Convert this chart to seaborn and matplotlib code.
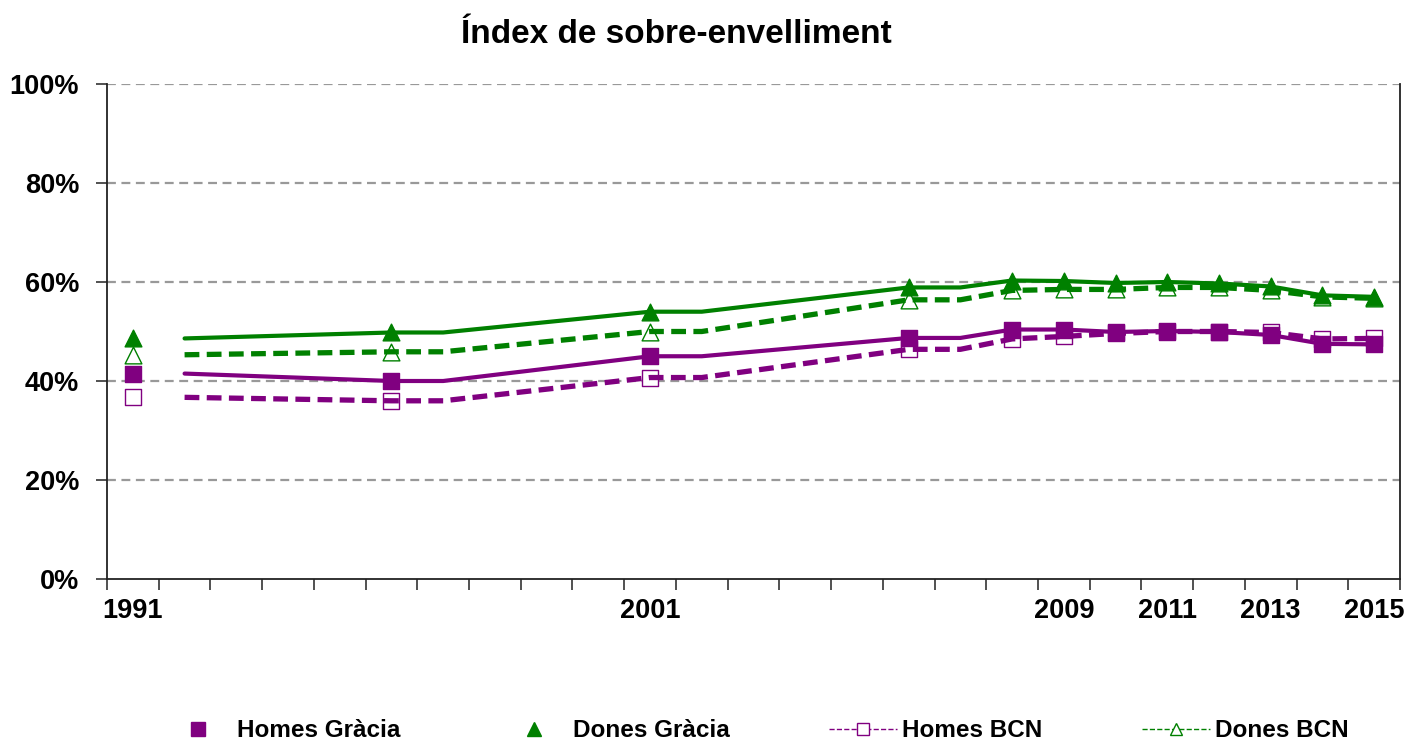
import seaborn as sns
import matplotlib.pyplot as plt
from matplotlib.lines import Line2D

filepath = 'out.png'

# x axis: one category per year, only some labelled
label_years = [1991, 2001, 2009, 2011, 2013, 2015]
first_year, last_year = 1991, 2015

# markers (values in %)
mark_years = [1991, 1996, 2001, 2006, 2008, 2009, 2010, 2011, 2012, 2013, 2014, 2015]
homes_gracia = [41.5, 40.0, 45.0, 48.7, 50.4, 50.4, 49.9, 50.1, 49.9, 49.3, 47.5, 47.4]
dones_gracia = [48.6, 49.8, 54.0, 58.9, 60.3, 60.2, 59.8, 60.0, 59.7, 59.1, 57.3, 57.0]
homes_bcn = [36.7, 36.0, 40.7, 46.4, 48.5, 49.0, 49.6, 50.0, 50.0, 49.8, 48.5, 48.6]
dones_bcn = [45.3, 45.9, 50.0, 56.4, 58.3, 58.5, 58.5, 58.9, 58.9, 58.3, 57.0, 56.7]

# trend lines drawn separately in the original chart
line_years = [1992, 1996, 1997, 2001, 2002, 2006, 2007, 2008, 2009, 2010, 2011, 2012, 2013, 2014, 2015]
homes_gracia_line = [41.5, 40.0, 40.0, 45.0, 45.0, 48.7, 48.7, 50.4, 50.4, 49.9, 50.1, 49.9, 49.3, 47.5, 47.4]
dones_gracia_line = [48.6, 49.8, 49.8, 54.0, 54.0, 58.9, 58.9, 60.3, 60.2, 59.8, 60.0, 59.7, 59.1, 57.3, 57.0]
homes_bcn_line = [36.7, 36.0, 36.0, 40.7, 40.7, 46.4, 46.4, 48.5, 49.0, 49.6, 50.0, 50.0, 49.8, 48.5, 48.6]
dones_bcn_line = [45.3, 45.9, 45.9, 50.0, 50.0, 56.4, 56.4, 58.3, 58.5, 58.5, 58.9, 58.9, 58.3, 57.0, 56.7]

purple = '#800080'
green = '#008000'

sns.set_theme(style='white')
plt.rcParams['font.family'] = ['Liberation Sans', 'DejaVu Sans']
plt.rcParams['text.color'] = 'black'
plt.rcParams['xtick.labelcolor'] = 'black'
plt.rcParams['ytick.labelcolor'] = 'black'

fig = plt.figure(figsize=(14.14, 7.45), dpi=100)
ax = fig.add_axes([107 / 1414, 1 - 579 / 745, 1293 / 1414, 495 / 745])

# gridlines
for v in [20, 40, 60, 80, 100]:
    ax.axhline(v, color='#999999', lw=1.6, linestyle=(0, (4, 2.5)), zorder=1)

# markers: BCN below Gràcia
sns.scatterplot(x=mark_years, y=homes_bcn, marker='s', s=130, color='white',
                edgecolor=purple, linewidth=1, ax=ax, zorder=3)
sns.scatterplot(x=mark_years, y=dones_bcn, marker='^', s=145, color='white',
                edgecolor=green, linewidth=1, ax=ax, zorder=3)
sns.scatterplot(x=mark_years, y=homes_gracia, marker='s', s=130, color=purple,
                edgecolor=purple, linewidth=1, ax=ax, zorder=4)
sns.scatterplot(x=mark_years, y=dones_gracia, marker='^', s=145, color=green,
                edgecolor=green, linewidth=1, ax=ax, zorder=4)

# lines on top
sns.lineplot(x=line_years, y=homes_gracia_line, color=purple, lw=3, ax=ax, zorder=5)
sns.lineplot(x=line_years, y=dones_gracia_line, color=green, lw=3, ax=ax, zorder=5)
sns.lineplot(x=line_years, y=homes_bcn_line, color=purple, lw=3.8,
             linestyle=(0, (2.8, 1.4)), ax=ax, zorder=5)
sns.lineplot(x=line_years, y=dones_bcn_line, color=green, lw=3.8,
             linestyle=(0, (2.8, 1.4)), ax=ax, zorder=5)

ax.set_xlim(first_year - 0.5, last_year + 0.5)
ax.set_ylim(0, 100)

# category boundaries as ticks, labels in the middle
ax.set_xticks([y + 0.5 for y in range(first_year - 1, last_year + 1)])
ax.set_xticklabels([])
ax.set_xticks(label_years, minor=True)
ax.set_xticklabels([str(y) for y in label_years], minor=True,
                   fontsize=19.5, fontweight='bold')
ax.tick_params(axis='x', which='major', bottom=True, length=8, width=1.1, color='#222222', direction='out')
ax.tick_params(axis='x', which='minor', bottom=True, length=0, pad=14)

ax.set_yticks([0, 20, 40, 60, 80, 100])
ax.set_yticklabels([f'{v}%' for v in range(0, 101, 20)], fontsize=19.5, fontweight='bold')
ax.tick_params(axis='y', left=True, length=8, width=1.1, color='#222222', pad=12)

for side in ['left', 'bottom', 'right']:
    ax.spines[side].set_color('#222222')
    ax.spines[side].set_linewidth(1.3)
ax.spines['top'].set_visible(False)
ax.set_xlabel('')
ax.set_ylabel('')

fig.text(676 / 1414, 1 - 43 / 745, 'Índex de sobre-envelliment', ha='center', va='baseline',
         fontsize=24, fontweight='bold', color='black')

handles = [
    Line2D([], [], linestyle='none', marker='s', markersize=10, color=purple),
    Line2D([], [], linestyle='none', marker='^', markersize=10, color=green),
    Line2D([], [], linestyle='--', lw=1, marker='s', markersize=9, color=purple,
           markerfacecolor='white', markeredgecolor=purple),
    Line2D([], [], linestyle='--', lw=1, marker='^', markersize=9, color=green,
           markerfacecolor='white', markeredgecolor=green),
]
labels = ['Homes Gràcia', 'Dones Gràcia', 'Homes BCN', 'Dones BCN']
fig.legend(handles, labels, loc='center', bbox_to_anchor=(0.535, 0.019), ncol=4,
           frameon=False, handlelength=2.8, handletextpad=0.2, columnspacing=4.1,
           prop={'size': 17.5, 'weight': 'bold'}, labelcolor='black')

plt.savefig(filepath, dpi=100)
plt.close('all')
